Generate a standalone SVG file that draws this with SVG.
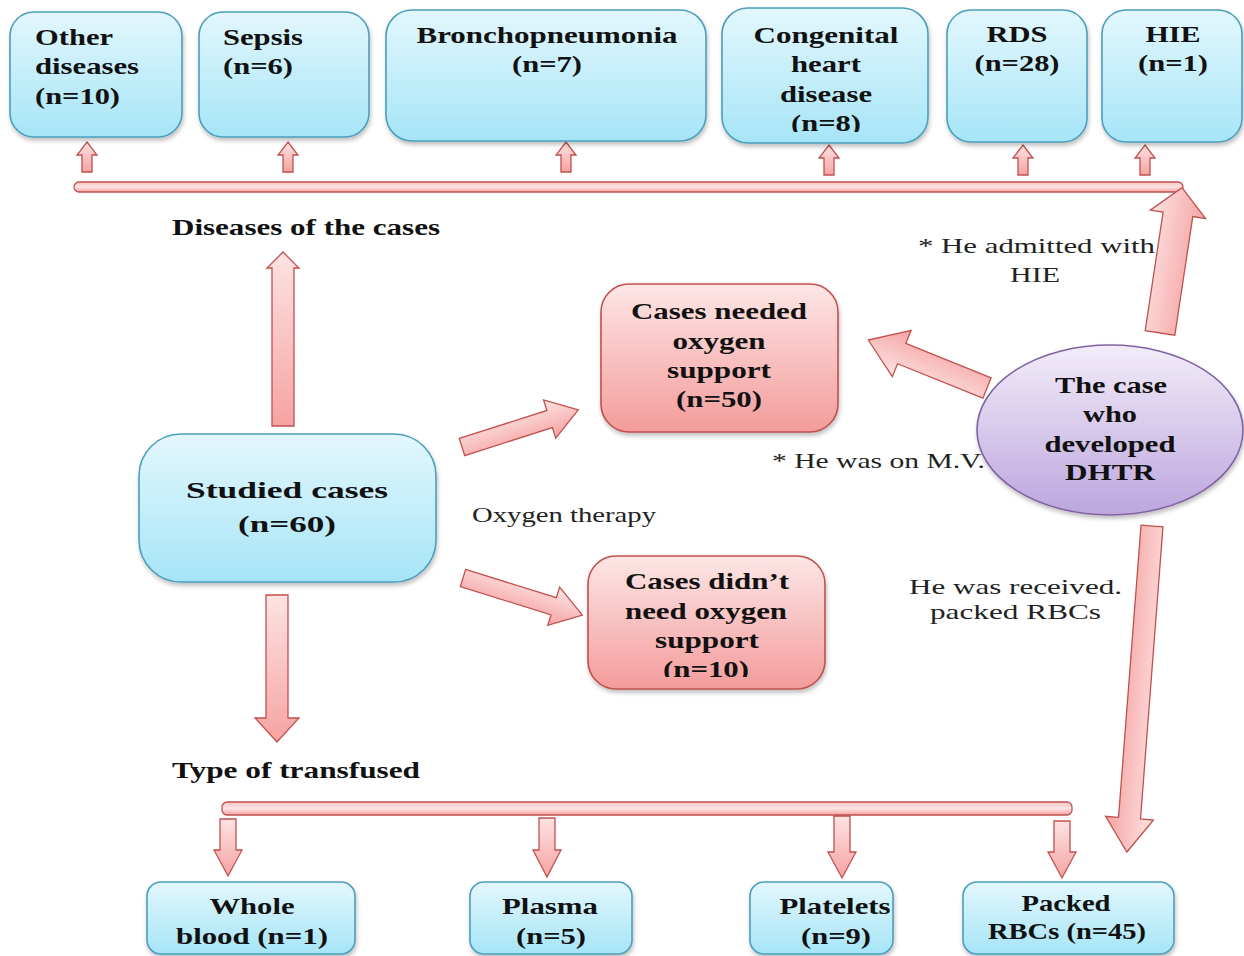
<svg xmlns="http://www.w3.org/2000/svg" width="1244" height="956" viewBox="0 0 1244 956">
<defs>
<linearGradient id="gBlue" x1="0" y1="0" x2="0" y2="1"><stop offset="0" stop-color="#e3f7fd"/><stop offset="1" stop-color="#a6e5f7"/></linearGradient>
<linearGradient id="gPink" x1="0" y1="0" x2="0" y2="1"><stop offset="0" stop-color="#fde6e6"/><stop offset="1" stop-color="#f39c9b"/></linearGradient>
<linearGradient id="gPurple" x1="0" y1="0" x2="0" y2="1"><stop offset="0" stop-color="#f2ecf9"/><stop offset="1" stop-color="#bca6de"/></linearGradient>
<linearGradient id="gArrow" x1="0" y1="0" x2="0" y2="1"><stop offset="0" stop-color="#fde3e3"/><stop offset="1" stop-color="#f5a3a2"/></linearGradient>
<linearGradient id="gArrowH" x1="0" y1="0" x2="0" y2="1"><stop offset="0" stop-color="#f8c4c3"/><stop offset="0.5" stop-color="#fde3e3"/><stop offset="1" stop-color="#f5a3a2"/></linearGradient>
<filter id="sh" x="-10%" y="-10%" width="125%" height="130%"><feDropShadow dx="1" dy="3" stdDeviation="2" flood-color="#000" flood-opacity="0.25"/></filter>
<clipPath id="clipChd"><rect x="722" y="8" width="206" height="124"/></clipPath>
<clipPath id="clipNot"><rect x="588" y="556" width="237" height="121"/></clipPath>
</defs>
<style>
.bb{fill:url(#gBlue);stroke:#4b9fbd;stroke-width:1.6;filter:url(#sh)}
.pb{fill:url(#gPink);stroke:#c0504d;stroke-width:1.6;filter:url(#sh)}
.el{fill:url(#gPurple);stroke:#8064a2;stroke-width:1.6;filter:url(#sh)}
.ar{fill:url(#gArrow);stroke:#c0504d;stroke-width:1.3;stroke-linejoin:miter}
.ah{fill:url(#gArrowH);stroke:#c0504d;stroke-width:1.3}
.t{font-family:"Liberation Serif","Times New Roman",serif;font-weight:bold;font-size:24px;fill:#111}
.tc{text-anchor:middle}
.n{font-family:"Liberation Serif","Times New Roman",serif;font-size:22px;fill:#222}
</style>

<g id="connectors">
  <path class="ar" d="M87,142 L97,155 L92,155 L92,172 L82,172 L82,155 L77,155 Z"/>
  <path class="ar" d="M288,142 L298,155 L293,155 L293,172 L283,172 L283,155 L278,155 Z"/>
  <path class="ar" d="M566,142 L576,155 L571,155 L571,172 L561,172 L561,155 L556,155 Z"/>
  <path class="ar" d="M829,145 L839,158 L834,158 L834,175 L824,175 L824,158 L819,158 Z"/>
  <path class="ar" d="M1023,145 L1033,158 L1028,158 L1028,175 L1018,175 L1018,158 L1013,158 Z"/>
  <path class="ar" d="M1145,145 L1155,158 L1150,158 L1150,175 L1140,175 L1140,158 L1135,158 Z"/>
  <rect class="ah" x="74" y="182" width="1109" height="10" rx="5"/>
  <path class="ar" d="M283,252 L299,268 L294,268 L294,426 L272,426 L272,268 L267,268 Z"/>
  <path class="ar" d="M266,595 L288,595 L288,718 L299,718 L277,742 L255,718 L266,718 Z"/>
  <rect class="ah" x="222" y="802" width="850" height="13" rx="5"/>
  <path class="ar" d="M220,819 L236,819 L236,850 L242,850 L228,876 L214,850 L220,850 Z"/>
  <path class="ar" d="M539,818 L555,818 L555,850 L561,850 L547,877 L533,850 L539,850 Z"/>
  <path class="ar" d="M834,816 L850,816 L850,852 L856,852 L842,878 L828,852 L834,852 Z"/>
  <path class="ar" d="M1054,821 L1070,821 L1070,852 L1076,852 L1062,878 L1048,852 L1054,852 Z"/>
  <g transform="translate(462,447) rotate(-17.7)">
    <path class="ar" d="M0,-9 L92,-9 L92,-20 L122,0 L92,20 L92,9 L0,9 Z"/>
  </g>
  <g transform="translate(463,578) rotate(17.3)">
    <path class="ar" d="M0,-9 L95,-9 L95,-20 L125,0 L95,20 L95,9 L0,9 Z"/>
  </g>
  <g transform="translate(987,388) rotate(202)">
    <path class="ar" d="M0,-11 L92,-11 L92,-25 L128,0 L92,25 L92,11 L0,11 Z"/>
  </g>
  <g transform="translate(1160,333) rotate(-81.4)">
    <path class="ar" d="M0,-15 L120,-15 L120,-28 L147,0 L120,28 L120,15 L0,15 Z"/>
  </g>
  <g transform="translate(1152,526) rotate(94.4)">
    <path class="ar" d="M0,-11 L293,-11 L293,-24 L327,0 L293,24 L293,11 L0,11 Z"/>
  </g>
</g>

<g id="node-other">
  <rect class="bb" x="10" y="12" width="172" height="125" rx="24"/>
  <text class="t" x="35" y="45" textLength="78" lengthAdjust="spacingAndGlyphs">Other</text>
  <text class="t" x="35" y="74" textLength="104" lengthAdjust="spacingAndGlyphs">diseases</text>
  <text class="t" x="35" y="104" textLength="85" lengthAdjust="spacingAndGlyphs">(n=10)</text>
</g>
<g id="node-sepsis">
  <rect class="bb" x="199" y="12" width="170" height="125" rx="24"/>
  <text class="t" x="223" y="45" textLength="80" lengthAdjust="spacingAndGlyphs">Sepsis</text>
  <text class="t" x="223" y="74" textLength="70" lengthAdjust="spacingAndGlyphs">(n=6)</text>
</g>
<g id="node-broncho">
  <rect class="bb" x="386" y="10" width="320" height="131" rx="26"/>
  <text class="t tc" x="547" y="43" textLength="261" lengthAdjust="spacingAndGlyphs">Bronchopneumonia</text>
  <text class="t tc" x="547" y="72" textLength="70" lengthAdjust="spacingAndGlyphs">(n=7)</text>
</g>
<g id="node-chd">
  <rect class="bb" x="722" y="8" width="206" height="135" rx="26"/>
  <g clip-path="url(#clipChd)">
  <text class="t tc" x="826" y="43" textLength="145" lengthAdjust="spacingAndGlyphs">Congenital</text>
  <text class="t tc" x="826" y="72" textLength="70" lengthAdjust="spacingAndGlyphs">heart</text>
  <text class="t tc" x="826" y="102" textLength="92" lengthAdjust="spacingAndGlyphs">disease</text>
  <text class="t tc" x="826" y="131" textLength="70" lengthAdjust="spacingAndGlyphs">(n=8)</text>
  </g>
</g>
<g id="node-rds">
  <rect class="bb" x="947" y="10" width="140" height="132" rx="24"/>
  <text class="t tc" x="1017" y="42" textLength="61" lengthAdjust="spacingAndGlyphs">RDS</text>
  <text class="t tc" x="1017" y="71" textLength="85" lengthAdjust="spacingAndGlyphs">(n=28)</text>
</g>
<g id="node-hie">
  <rect class="bb" x="1102" y="10" width="140" height="132" rx="24"/>
  <text class="t tc" x="1173" y="42" textLength="55" lengthAdjust="spacingAndGlyphs">HIE</text>
  <text class="t tc" x="1173" y="71" textLength="70" lengthAdjust="spacingAndGlyphs">(n=1)</text>
</g>

<g id="label-diseases">
  <text class="t" x="172" y="235" textLength="268" lengthAdjust="spacingAndGlyphs">Diseases of the cases</text>
</g>

<g id="node-studied">
  <rect class="bb" x="139" y="434" width="297" height="148" rx="42"/>
  <text class="t tc" x="287" y="498" font-size="27" textLength="202" lengthAdjust="spacingAndGlyphs">Studied cases</text>
  <text class="t tc" x="287" y="532" font-size="27" textLength="98" lengthAdjust="spacingAndGlyphs">(n=60)</text>
</g>

<g id="label-oxygen">
  <text class="n" x="472" y="522" textLength="184" lengthAdjust="spacingAndGlyphs">Oxygen therapy</text>
</g>

<g id="node-needed">
  <rect class="pb" x="601" y="284" width="237" height="148" rx="28"/>
  <text class="t tc" x="719" y="319" textLength="176" lengthAdjust="spacingAndGlyphs">Cases needed</text>
  <text class="t tc" x="719" y="349" textLength="93" lengthAdjust="spacingAndGlyphs">oxygen</text>
  <text class="t tc" x="719" y="378" textLength="104" lengthAdjust="spacingAndGlyphs">support</text>
  <text class="t tc" x="719" y="407" textLength="86" lengthAdjust="spacingAndGlyphs">(n=50)</text>
</g>

<g id="node-notneeded">
  <rect class="pb" x="588" y="556" width="237" height="133" rx="28"/>
  <g clip-path="url(#clipNot)">
  <text class="t tc" x="707" y="589" textLength="164" lengthAdjust="spacingAndGlyphs">Cases didn’t</text>
  <text class="t tc" x="706" y="619" textLength="162" lengthAdjust="spacingAndGlyphs">need oxygen</text>
  <text class="t tc" x="707" y="648" textLength="104" lengthAdjust="spacingAndGlyphs">support</text>
  <text class="t tc" x="706" y="677" textLength="86" lengthAdjust="spacingAndGlyphs">(n=10)</text>
  </g>
</g>

<g id="node-dhtr">
  <ellipse class="el" cx="1110" cy="430" rx="133" ry="85"/>
  <text class="t tc" x="1111" y="393" textLength="112" lengthAdjust="spacingAndGlyphs">The case</text>
  <text class="t tc" x="1110" y="422" textLength="54" lengthAdjust="spacingAndGlyphs">who</text>
  <text class="t tc" x="1110" y="452" textLength="131" lengthAdjust="spacingAndGlyphs">developed</text>
  <text class="t tc" x="1110" y="480" textLength="90" lengthAdjust="spacingAndGlyphs">DHTR</text>
</g>

<g id="notes">
  <text class="n" x="918" y="253" textLength="237" lengthAdjust="spacingAndGlyphs">* He admitted with</text>
  <text class="n tc" x="1035" y="282" textLength="50" lengthAdjust="spacingAndGlyphs">HIE</text>
  <text class="n" x="772" y="468" textLength="213" lengthAdjust="spacingAndGlyphs">* He was on M.V.</text>
  <text class="n" x="909" y="594" textLength="213" lengthAdjust="spacingAndGlyphs">He was received.</text>
  <text class="n" x="930" y="619" textLength="171" lengthAdjust="spacingAndGlyphs">packed RBCs</text>
</g>

<g id="label-transfused">
  <text class="t" x="172" y="778" textLength="248" lengthAdjust="spacingAndGlyphs">Type of transfused</text>
</g>

<g id="node-whole">
  <rect class="bb" x="147" y="882" width="208" height="72" rx="14"/>
  <text class="t tc" x="252" y="914" textLength="85" lengthAdjust="spacingAndGlyphs">Whole</text>
  <text class="t tc" x="252" y="944" textLength="152" lengthAdjust="spacingAndGlyphs">blood (n=1)</text>
</g>
<g id="node-plasma">
  <rect class="bb" x="470" y="882" width="162" height="72" rx="14"/>
  <text class="t tc" x="550" y="914" textLength="96" lengthAdjust="spacingAndGlyphs">Plasma</text>
  <text class="t tc" x="551" y="944" textLength="70" lengthAdjust="spacingAndGlyphs">(n=5)</text>
</g>
<g id="node-platelets">
  <rect class="bb" x="750" y="882" width="143" height="72" rx="14"/>
  <text class="t tc" x="835" y="914" textLength="111" lengthAdjust="spacingAndGlyphs">Platelets</text>
  <text class="t tc" x="836" y="944" textLength="70" lengthAdjust="spacingAndGlyphs">(n=9)</text>
</g>
<g id="node-packed">
  <rect class="bb" x="963" y="882" width="211" height="72" rx="14"/>
  <text class="t tc" x="1066" y="911" textLength="89" lengthAdjust="spacingAndGlyphs">Packed</text>
  <text class="t tc" x="1067" y="939" textLength="158" lengthAdjust="spacingAndGlyphs">RBCs (n=45)</text>
</g>
</svg>
